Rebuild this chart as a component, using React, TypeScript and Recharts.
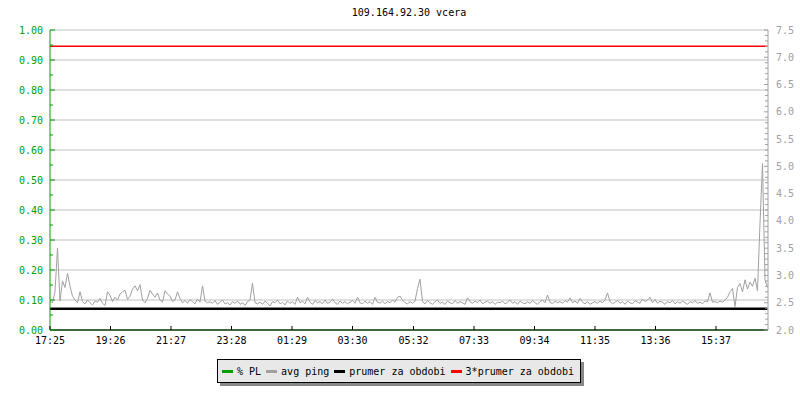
import { CartesianGrid, ComposedChart, Line, XAxis, YAxis } from 'recharts';

const FONT = '"DejaVu Sans Mono", monospace';

const timeTicks = [0, 121, 242, 363, 484, 605, 727, 848, 969, 1090, 1211, 1332];
const timeLabels = ['17:25', '19:26', '21:27', '23:28', '01:29', '03:30', '05:32', '07:33', '09:34', '11:35', '13:36', '15:37'];

const plTicks = [
  0, 0.05, 0.1, 0.15, 0.2, 0.25, 0.3, 0.35, 0.4, 0.45, 0.5,
  0.55, 0.6, 0.65, 0.7, 0.75, 0.8, 0.85, 0.9, 0.95, 1.0,
];
const gridValues = [0.1, 0.2, 0.3, 0.4, 0.5, 0.6, 0.7, 0.8, 0.9, 1.0];
const pingTicks = Array.from({ length: 56 }, (_, k) => Math.round((2 + k * 0.1) * 10) / 10);

// one sample every 5 minutes, starting 17:25
const sampleStep = 5;
const avgPing = [
  2.53, 2.50, 2.70, 3.50, 2.53, 2.90, 2.78, 3.04, 2.80, 2.62, 2.55, 2.50,
  2.70, 2.52, 2.48, 2.55, 2.50, 2.46, 2.53, 2.51, 2.58, 2.49, 2.45, 2.70,
  2.64, 2.52, 2.60, 2.55, 2.66, 2.70, 2.73, 2.56, 2.62, 2.75, 2.81, 2.72,
  2.83, 2.55, 2.50, 2.58, 2.73, 2.66, 2.60, 2.68, 2.55, 2.51, 2.72, 2.66,
  2.62, 2.52, 2.55, 2.70, 2.58, 2.50, 2.54, 2.49, 2.56, 2.52, 2.48, 2.57,
  2.51, 2.81, 2.53, 2.50, 2.52, 2.49, 2.54, 2.47, 2.51, 2.55, 2.48, 2.50,
  2.46, 2.52, 2.49, 2.53, 2.47, 2.50, 2.45, 2.52, 2.55, 2.86, 2.50, 2.48,
  2.51, 2.47, 2.53, 2.49, 2.44, 2.52, 2.50, 2.55, 2.48, 2.51, 2.46, 2.53,
  2.49, 2.52, 2.47, 2.60, 2.50, 2.53, 2.48, 2.60, 2.51, 2.47, 2.54, 2.50,
  2.52, 2.48, 2.55, 2.49, 2.51, 2.57, 2.50, 2.47, 2.53, 2.49, 2.52, 2.48,
  2.51, 2.54, 2.49, 2.60, 2.50, 2.48, 2.53, 2.49, 2.52, 2.47, 2.60, 2.51,
  2.49, 2.53, 2.48, 2.52, 2.50, 2.55, 2.51, 2.60, 2.62, 2.55, 2.50, 2.48,
  2.52, 2.49, 2.53, 2.76, 2.93, 2.52, 2.48, 2.54, 2.50, 2.47, 2.52, 2.55,
  2.49, 2.51, 2.47, 2.53, 2.50, 2.48, 2.54, 2.49, 2.52, 2.50, 2.47, 2.59,
  2.52, 2.49, 2.53, 2.50, 2.55, 2.48, 2.51, 2.53, 2.49, 2.52, 2.47, 2.51,
  2.50, 2.53, 2.48, 2.51, 2.55, 2.49, 2.52, 2.47, 2.53, 2.50, 2.48, 2.52,
  2.49, 2.54, 2.50, 2.47, 2.52, 2.55, 2.50, 2.64, 2.51, 2.48, 2.53, 2.50,
  2.52, 2.49, 2.54, 2.51, 2.59, 2.50, 2.53, 2.49, 2.58, 2.51, 2.48, 2.52,
  2.47, 2.50, 2.52, 2.49, 2.53, 2.50, 2.55, 2.68, 2.52, 2.48, 2.51, 2.54,
  2.49, 2.52, 2.47, 2.53, 2.50, 2.48, 2.54, 2.51, 2.49, 2.57, 2.52, 2.55,
  2.60, 2.50, 2.56, 2.49, 2.53, 2.51, 2.47, 2.52, 2.50, 2.54, 2.48, 2.52,
  2.49, 2.53, 2.50, 2.47, 2.52, 2.50, 2.54, 2.49, 2.51, 2.48, 2.53, 2.52,
  2.68, 2.51, 2.52, 2.50, 2.53, 2.51, 2.55, 2.60, 2.70, 2.76, 2.43, 2.78,
  2.85, 2.70, 2.92, 2.75, 2.88, 2.80, 2.95, 2.72, 3.96, 5.05, 2.92, 2.78,
];
// no packet loss during the period
const packetLoss = 0;
const periodMean = 2.39;
const tripleMean = 7.2;

const legendLabels = ['% PL', 'avg ping', 'prumer za obdobi', '3*prumer za obdobi'];
const legendColors = ['#00a000', '#a0a0a0', '#000000', '#ff0000'];

const data = avgPing.map((v, i) => ({
  t: i * sampleStep,
  pl: packetLoss,
  ping: v,
  mean: periodMean,
  mean3: tripleMean,
}));

function TimeTick({ x, y, payload }: any) {
  const idx = timeTicks.indexOf(payload.value);
  return (
    <g>
      <line x1={x} y1={y} x2={x} y2={y - 4} stroke="#000" />
      <text x={x} y={y + 14} textAnchor="middle" fontFamily={FONT} fontSize={10} fill="#000">
        {timeLabels[idx]}
      </text>
    </g>
  );
}

function PlTick({ x, y, payload }: any) {
  const major = Math.round(payload.value * 100) % 10 === 0;
  return (
    <g>
      <line x1={x} y1={y} x2={x + (major ? 5 : 3)} y2={y} stroke="#00a000" />
      {major && (
        <text x={x - 7} y={y} dy="0.35em" textAnchor="end" fontFamily={FONT} fontSize={10} fill="#00a000">
          {payload.value.toFixed(2)}
        </text>
      )}
    </g>
  );
}

function PingTick({ x, y, payload }: any) {
  const major = Math.round(payload.value * 10) % 5 === 0;
  return (
    <g>
      <line x1={x} y1={y} x2={x - (major ? 4 : 3)} y2={y} stroke="#a0a0a0" />
      {major && (
        <text x={x + 8} y={y} dy="0.35em" textAnchor="start" fontFamily={FONT} fontSize={10} fill="#a0a0a0">
          {payload.value.toFixed(1)}
        </text>
      )}
    </g>
  );
}

export default function App() {
  return (
    <div style={{ position: 'absolute', left: 0, top: 0, width: 800, height: 400, background: '#fff' }}>
      <div
        style={{
          position: 'absolute', left: 50, width: 718, top: 7, textAlign: 'center',
          fontFamily: FONT, fontSize: 10, color: '#000', lineHeight: '12px',
        }}
      >
        109.164.92.30 vcera
      </div>
      <ComposedChart width={800} height={400} data={data} margin={{ top: 30, right: 0, bottom: 0, left: 0 }}>
        <CartesianGrid yAxisId="pl" vertical={false} horizontalValues={gridValues} stroke="#c0c0c0" />
        <Line yAxisId="pl" dataKey="pl" type="linear" stroke="#00a000" strokeWidth={1} dot={false} isAnimationActive={false} />
        <Line yAxisId="ping" dataKey="ping" type="linear" stroke="#a0a0a0" strokeWidth={1} dot={false} isAnimationActive={false} />
        <Line yAxisId="ping" dataKey="mean" type="linear" stroke="#000" strokeWidth={2.5} dot={false} isAnimationActive={false} />
        <Line yAxisId="ping" dataKey="mean3" type="linear" stroke="#ff0000" strokeWidth={1.5} dot={false} isAnimationActive={false} />
        <XAxis
          dataKey="t"
          type="number"
          domain={[0, 1436]}
          ticks={timeTicks}
          interval={0}
          height={70}
          tickSize={0}
          tickMargin={0}
          tickLine={false}
          axisLine={{ stroke: '#000' }}
          tick={<TimeTick />}
        />
        <YAxis
          yAxisId="pl"
          orientation="left"
          width={50}
          domain={[0, 1]}
          ticks={plTicks}
          interval={0}
          tickSize={0}
          tickMargin={0}
          tickLine={false}
          axisLine={{ stroke: '#00a000' }}
          tick={<PlTick />}
        />
        <YAxis
          yAxisId="ping"
          orientation="right"
          width={32}
          domain={[2, 7.5]}
          ticks={pingTicks}
          interval={0}
          tickSize={0}
          tickMargin={0}
          tickLine={false}
          axisLine={{ stroke: '#a0a0a0' }}
          tick={<PingTick />}
        />
      </ComposedChart>
      <div
        style={{
          position: 'absolute', left: 217, top: 359, width: 364, height: 24, boxSizing: 'border-box',
          background: '#e8e8e8', border: '1px solid #000', boxShadow: '3px 3px 0 #888',
          display: 'flex', alignItems: 'center', paddingLeft: 4, gap: 5,
          fontFamily: FONT, fontSize: 10, color: '#000', whiteSpace: 'nowrap',
        }}
      >
        {legendLabels.map((label, i) => (
          <span key={label} style={{ display: 'flex', alignItems: 'center' }}>
            <span style={{ display: 'inline-block', width: 11, height: 3, background: legendColors[i], marginRight: 4 }} />
            {label}
          </span>
        ))}
      </div>
    </div>
  );
}
